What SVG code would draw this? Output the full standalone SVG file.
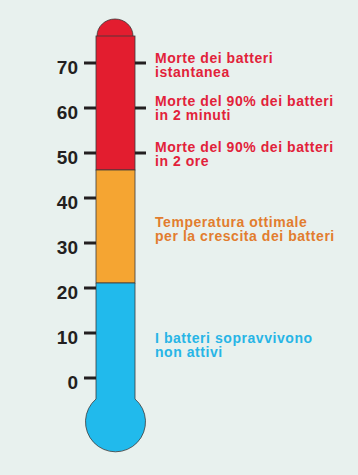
<svg xmlns="http://www.w3.org/2000/svg" width="358" height="475" viewBox="0 0 358 475">
<style>
.num{font-family:"Liberation Sans",Arial,sans-serif;font-weight:bold;font-size:19px;fill:#231f20;text-anchor:end}
.lab{font-family:"Liberation Sans",Arial,sans-serif;font-weight:bold;font-size:14px;letter-spacing:0.55px}
.red{fill:#e2223a}
.org{fill:#e27d2e}
.blu{fill:#27b5e6}
.tick{stroke:#231f20;stroke-width:3}
.edge{stroke:#3a3a3a;stroke-width:0.8}
</style>
<rect width="358" height="475" fill="#e8f1ee"/>
<g id="thermometer">
<path class="edge" d="M97,37 V36 A18,17 0 0 1 133,36 V37 Z" fill="#e31d2f"/>
<rect class="edge" x="96" y="36" width="39" height="134" fill="#e31d2f"/>
<rect class="edge" x="96" y="170" width="39" height="113" fill="#f5a532"/>
<path class="edge" d="M96,283 H135 V399 A30,30 0 1 1 96,399 Z" fill="#21baec"/>
</g>
<g id="scale">
<g id="tick-70"><line class="tick" x1="84" y1="63" x2="96" y2="63"/><text class="num" x="78" y="74">70</text></g>
<g id="tick-60"><line class="tick" x1="84" y1="108" x2="96" y2="108"/><text class="num" x="78" y="119">60</text></g>
<g id="tick-50"><line class="tick" x1="84" y1="153" x2="96" y2="153"/><text class="num" x="78" y="164">50</text></g>
<g id="tick-40"><line class="tick" x1="84" y1="198" x2="96" y2="198"/><text class="num" x="78" y="209">40</text></g>
<g id="tick-30"><line class="tick" x1="84" y1="243" x2="96" y2="243"/><text class="num" x="78" y="254">30</text></g>
<g id="tick-20"><line class="tick" x1="84" y1="288" x2="96" y2="288"/><text class="num" x="78" y="299">20</text></g>
<g id="tick-10"><line class="tick" x1="84" y1="333" x2="96" y2="333"/><text class="num" x="78" y="344">10</text></g>
<g id="tick-0"><line class="tick" x1="84" y1="378" x2="96" y2="378"/><text class="num" x="78" y="389">0</text></g>
</g>
<g id="connectors">
<line class="tick" x1="135" y1="63" x2="146" y2="63"/>
<line class="tick" x1="135" y1="108" x2="146" y2="108"/>
<line class="tick" x1="135" y1="153" x2="146" y2="153"/>
</g>
<g id="label-70"><text class="lab red" x="155" y="62.5">Morte dei batteri</text><text class="lab red" x="155" y="77">istantanea</text></g>
<g id="label-60"><text class="lab red" x="155" y="105.5">Morte del 90% dei batteri</text><text class="lab red" x="155" y="120">in 2 minuti</text></g>
<g id="label-50"><text class="lab red" x="155" y="151.5">Morte del 90% dei batteri</text><text class="lab red" x="155" y="166">in 2 ore</text></g>
<g id="label-optimal"><text class="lab org" x="155" y="226.5">Temperatura ottimale</text><text class="lab org" x="155" y="241">per la crescita dei batteri</text></g>
<g id="label-survive"><text class="lab blu" x="155" y="342.5">I batteri sopravvivono</text><text class="lab blu" x="155" y="357">non attivi</text></g>
</svg>
